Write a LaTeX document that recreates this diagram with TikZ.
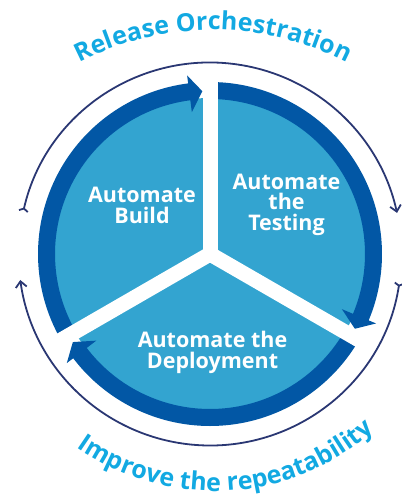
\documentclass[tikz,border=0pt]{standalone}
\usepackage{fontspec}
\setmainfont{Open Sans}
\usetikzlibrary{calc,decorations.text,arrows.meta}
\definecolor{lightsec}{HTML}{33A4D0}
\definecolor{ringblue}{HTML}{0257A5}
\definecolor{navyline}{HTML}{2A3773}
\definecolor{txtcyan}{HTML}{12A9E2}
\newcommand\ringsegment[3]{%
  \fill[ringblue] ($(C)+(#1:172pt)$) arc[start angle=#1, end angle=#2, radius=172pt]
    -- ($(C)+(#2:180pt)$) -- ($(C)+(#3:163pt)$) -- ($(C)+(#2:143pt)$) -- ($(C)+(#2:155pt)$)
    arc[start angle=#2, end angle=#1, radius=155pt] -- cycle;}
\begin{document}
\begin{tikzpicture}[x=1pt,y=1pt,
  seglabel/.style={font=\fontsize{21.5}{20.5}\selectfont\bfseries, text=white, align=center, inner sep=0pt},
  thinarc/.style={navyline, line width=1.8pt},
  gapline/.style={white, line width=15pt}]
\useasboundingbox (0,0) rectangle (401,-497);
\coordinate (C) at (210,-254);
\coordinate (T) at (213,-322.6);
\coordinate (B) at (215,-251);
% light disc
\fill[lightsec] (C) circle[radius=156pt];
% ring segments with arrow heads
\ringsegment{210}{97.3}{92.7}
\ringsegment{90}{-22.7}{-27.3}
\ringsegment{-30}{-142.7}{-147.3}
% white gaps
\foreach \a in {90,210,330} \draw[gapline] (C) -- ($(C)+(\a:186pt)$);
% thin outer arcs
\draw[thinarc, {Straight Barb[reversed,length=2.5pt,width=9pt]}-{Straight Barb[length=6pt,width=11pt]}]
  ($(C)+(167.3:191.5pt)$) arc[start angle=167.3, end angle=12.4, radius=191.5pt];
\draw[thinarc, {Straight Barb[reversed,length=2.5pt,width=9pt]}-{Straight Barb[length=6pt,width=11pt]}]
  ($(C)+(-8.5:191.5pt)$) arc[start angle=-8.5, end angle=-172.2, radius=191.5pt];
% labels (base anchor = baseline of the last line)
\node[seglabel, anchor=base] (build) at (142,-223) {Automate\\Build};
\node[seglabel, anchor=base] (testing) at (286.5,-230) {Automate\\the\\Testing};
\node[seglabel, anchor=base] (deploy) at (212.5,-368) {Automate the\\Deployment};
% curved texts
\path[decorate, decoration={text along path, text align=center,
  text={|\fontsize{25}{25}\selectfont\bfseries\color{txtcyan}|Release Orchestration}}]
  ($(T)+(150:292.6pt)$) arc[start angle=150, end angle=30, radius=292.6pt];
\path[decorate, decoration={text along path, text align=center,
  text={|\fontsize{25}{25}\selectfont\bfseries\color{txtcyan}|Improve the repeatability}}]
  ($(B)+(202:240pt)$) arc[start angle=202, end angle=344.4, radius=240pt];
\end{tikzpicture}
\end{document}
